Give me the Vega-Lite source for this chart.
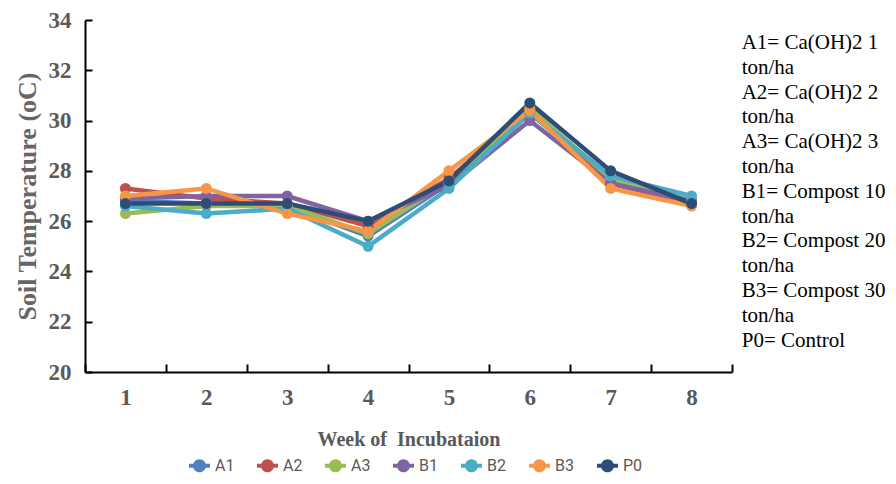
{
  "$schema": "https://vega.github.io/schema/vega-lite/v6.json",
  "autosize": "none",
  "width": 647,
  "height": 352,
  "padding": {"left": 85, "top": 20, "right": 164, "bottom": 112},
  "background": "white",
  "title": {
    "text": ["A1= Ca(OH)2 1", "ton/ha", "A2= Ca(OH)2 2", "ton/ha", "A3= Ca(OH)2 3", "ton/ha", "B1= Compost 10", "ton/ha", "B2= Compost 20", "ton/ha", "B3= Compost 30", "ton/ha", "P0= Control"],
    "orient": "right",
    "anchor": "start",
    "frame": "group",
    "angle": 0,
    "align": "left",
    "baseline": "top",
    "font": "Liberation Serif",
    "fontSize": 21,
    "fontWeight": "normal",
    "color": "#000000",
    "lineHeight": 24.8,
    "offset": 9,
    "dx": -144,
    "dy": 12
  },
  "data": {
    "values": [
      {"week": 1, "series": "A1", "temp": 26.8}, {"week": 2, "series": "A1", "temp": 26.7}, {"week": 3, "series": "A1", "temp": 26.6}, {"week": 4, "series": "A1", "temp": 25.4}, {"week": 5, "series": "A1", "temp": 27.5}, {"week": 6, "series": "A1", "temp": 30.3}, {"week": 7, "series": "A1", "temp": 27.6}, {"week": 8, "series": "A1", "temp": 26.8},
      {"week": 1, "series": "A2", "temp": 27.3}, {"week": 2, "series": "A2", "temp": 26.9}, {"week": 3, "series": "A2", "temp": 26.7}, {"week": 4, "series": "A2", "temp": 25.8}, {"week": 5, "series": "A2", "temp": 27.7}, {"week": 6, "series": "A2", "temp": 30.4}, {"week": 7, "series": "A2", "temp": 27.5}, {"week": 8, "series": "A2", "temp": 26.7},
      {"week": 1, "series": "A3", "temp": 26.3}, {"week": 2, "series": "A3", "temp": 26.6}, {"week": 3, "series": "A3", "temp": 26.6}, {"week": 4, "series": "A3", "temp": 25.5}, {"week": 5, "series": "A3", "temp": 27.6}, {"week": 6, "series": "A3", "temp": 30.5}, {"week": 7, "series": "A3", "temp": 27.7}, {"week": 8, "series": "A3", "temp": 26.8},
      {"week": 1, "series": "B1", "temp": 26.9}, {"week": 2, "series": "B1", "temp": 27.0}, {"week": 3, "series": "B1", "temp": 27.0}, {"week": 4, "series": "B1", "temp": 26.0}, {"week": 5, "series": "B1", "temp": 27.4}, {"week": 6, "series": "B1", "temp": 30.0}, {"week": 7, "series": "B1", "temp": 27.5}, {"week": 8, "series": "B1", "temp": 26.8},
      {"week": 1, "series": "B2", "temp": 26.6}, {"week": 2, "series": "B2", "temp": 26.3}, {"week": 3, "series": "B2", "temp": 26.5}, {"week": 4, "series": "B2", "temp": 25.0}, {"week": 5, "series": "B2", "temp": 27.3}, {"week": 6, "series": "B2", "temp": 30.3}, {"week": 7, "series": "B2", "temp": 27.8}, {"week": 8, "series": "B2", "temp": 27.0},
      {"week": 1, "series": "B3", "temp": 27.0}, {"week": 2, "series": "B3", "temp": 27.3}, {"week": 3, "series": "B3", "temp": 26.3}, {"week": 4, "series": "B3", "temp": 25.6}, {"week": 5, "series": "B3", "temp": 28.0}, {"week": 6, "series": "B3", "temp": 30.4}, {"week": 7, "series": "B3", "temp": 27.3}, {"week": 8, "series": "B3", "temp": 26.6},
      {"week": 1, "series": "P0", "temp": 26.7}, {"week": 2, "series": "P0", "temp": 26.7}, {"week": 3, "series": "P0", "temp": 26.7}, {"week": 4, "series": "P0", "temp": 26.0}, {"week": 5, "series": "P0", "temp": 27.6}, {"week": 6, "series": "P0", "temp": 30.7}, {"week": 7, "series": "P0", "temp": 28.0}, {"week": 8, "series": "P0", "temp": 26.7}
    ]
  },
  "encoding": {
    "x": {
      "field": "week",
      "type": "ordinal",
      "bandPosition": 0.5,
      "scale": {"type": "band", "paddingInner": 0, "paddingOuter": 0},
      "axis": {
        "title": "Week of\u00a0 Incubataion",
        "labelAngle": 0,
        "tickBand": "extent",
        "tickSize": -8,
        "tickWidth": 2,
        "tickColor": "#000000",
        "domainColor": "#000000",
        "domainWidth": 2,
        "labelFont": "Liberation Serif",
        "labelFontSize": 23,
        "labelFontWeight": "bold",
        "labelColor": "#595959",
        "labelPadding": 22,
        "titleFont": "Liberation Serif",
        "titleFontSize": 20,
        "titleFontWeight": "bold",
        "titleColor": "#595959",
        "titlePadding": 20
      }
    },
    "y": {
      "field": "temp",
      "type": "quantitative",
      "scale": {"domain": [20, 34], "nice": false, "zero": false},
      "axis": {
        "title": "Soil Temperature (oC)",
        "values": [20, 22, 24, 26, 28, 30, 32, 34],
        "grid": false,
        "tickSize": -7,
        "tickWidth": 2,
        "tickColor": "#000000",
        "domainColor": "#000000",
        "domainWidth": 2,
        "labelFont": "Liberation Serif",
        "labelFontSize": 23,
        "labelFontWeight": "bold",
        "labelColor": "#595959",
        "labelPadding": 21,
        "titleFont": "Liberation Serif",
        "titleFontSize": 26,
        "titleFontWeight": "bold",
        "titleColor": "#666666",
        "titlePadding": 8
      }
    },
    "color": {
      "field": "series",
      "type": "nominal",
      "scale": {"domain": ["A1", "A2", "A3", "B1", "B2", "B3", "P0"], "range": ["#4F81BD", "#C0504D", "#9BBB59", "#8064A2", "#4BACC6", "#F79646", "#2C4D75"]},
      "legend": {
        "title": null,
        "orient": "none",
        "direction": "horizontal",
        "legendX": 104,
        "legendY": 435,
        "padding": 0,
        "columns": 7,
        "gridAlign": "all",
        "columnPadding": 22,
        "symbolType": "M-1,-0.19H1V0.19H-1Z M0.62,0A0.62,0.62,0,1,1,-0.62,0A0.62,0.62,0,1,1,0.62,0Z",
        "symbolSize": 441,
        "symbolStrokeWidth": 0,
        "symbolOpacity": 1,
        "labelFont": "Liberation Sans Narrow, Roboto, Liberation Sans",
        "labelFontSize": 16,
        "labelColor": "#595959",
        "labelOffset": 5,
        "encode": {
          "symbols": {
            "update": {
              "fill": {"scale": "color", "field": "value"},
              "stroke": {"value": "transparent"},
              "strokeWidth": {"value": 0}
            }
          }
        }
      }
    }
  },
  "layer": [
    {"mark": {"type": "line", "strokeWidth": 4.5}},
    {"mark": {"type": "point", "filled": true, "size": 121, "shape": "circle", "opacity": 1}}
  ],
  "config": {
    "view": {"stroke": null},
    "title": {"font": "Liberation Serif", "fontWeight": "normal"}
  }
}
